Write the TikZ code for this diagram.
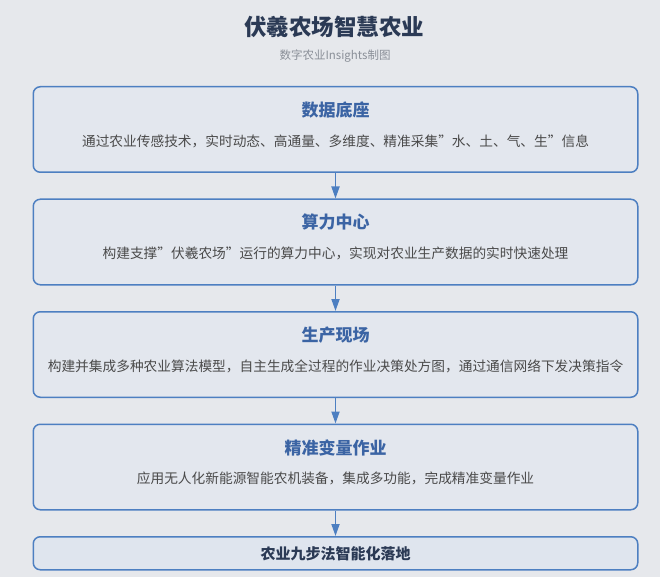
\documentclass[tikz,border=0pt]{standalone}
\usepackage{fontspec}
\setmainfont{Noto Sans CJK SC}
\usetikzlibrary{positioning,arrows.meta}
\definecolor{bgc}{HTML}{E6E8EC}
\definecolor{boxfill}{HTML}{E3E7EE}
\definecolor{lastfill}{HTML}{DFE5EE}
\definecolor{edge}{HTML}{4D7FC1}
\definecolor{headc}{HTML}{3B64A4}
\definecolor{navy}{HTML}{2B3A55}
\definecolor{descc}{HTML}{4A4A4A}
\definecolor{subc}{HTML}{8A8F98}
\begin{document}
\begin{tikzpicture}[x=1pt, y=1pt, node distance=25.5pt, >={Triangle[width=8pt,length=12pt]},
  stage/.style = {draw=edge, line width=1.5pt, fill=boxfill, rounded corners=7pt, minimum width=604.5pt, minimum height=85.5pt, inner sep=0pt},
  head/.style = {text=headc, font=\fontsize{17}{20}\selectfont\bfseries, inner sep=0pt},
  desc/.style = {text=descc, font=\fontsize{13.7}{16}\selectfont, inner sep=0pt},
  flow/.style = {->, draw=edge, line width=1.8pt}]
	\useasboundingbox[fill=bgc] (0,0) rectangle (660,-577);

	\node[text=navy, font=\fontsize{22.5}{26}\selectfont\bfseries] (title) at (334,-27) {伏羲农场智慧农业};
	\node[text=subc, font=\fontsize{11.5}{14}\selectfont] (sub) at (335,-56) {数字农业Insights制图};

	\node[stage] (b1) at (335.5,-129.5) {};
	\node[stage] (b2) [below=of b1] {};
	\node[stage] (b3) [below=of b2] {};
	\node[stage] (b4) [below=of b3] {};
	\node[stage, fill=lastfill, minimum height=33pt] (b5) [below=of b4] {};

	\node[head] (h1) at ([yshift=19.5pt]b1.center) {数据底座};
	\node[desc] (d1) at ([yshift=-11.5pt]b1.center) {通过农业传感技术，实时动态、高通量、多维度、精准采集"水、土、气、生"信息};
	\node[head] (h2) at ([yshift=19.5pt]b2.center) {算力中心};
	\node[desc] (d2) at ([yshift=-11.5pt]b2.center) {构建支撑"伏羲农场"运行的算力中心，实现对农业生产数据的实时快速处理};
	\node[head] (h3) at ([yshift=19.5pt]b3.center) {生产现场};
	\node[desc] (d3) at ([yshift=-11.5pt]b3.center) {构建并集成多种农业算法模型，自主生成全过程的作业决策处方图，通过通信网络下发决策指令};
	\node[head] (h4) at ([yshift=19.5pt]b4.center) {精准变量作业};
	\node[desc] (d4) at ([yshift=-11.5pt]b4.center) {应用无人化新能源智能农机装备，集成多功能，完成精准变量作业};
	\node[text=navy, font=\fontsize{15}{18}\selectfont\bfseries, inner sep=0pt] (h5) at (b5.center) {农业九步法智能化落地};

	\draw[flow] (b1) -- (b2);
	\draw[flow] (b2) -- (b3);
	\draw[flow] (b3) -- (b4);
	\draw[flow] (b4) -- (b5);
\end{tikzpicture}
\end{document}
